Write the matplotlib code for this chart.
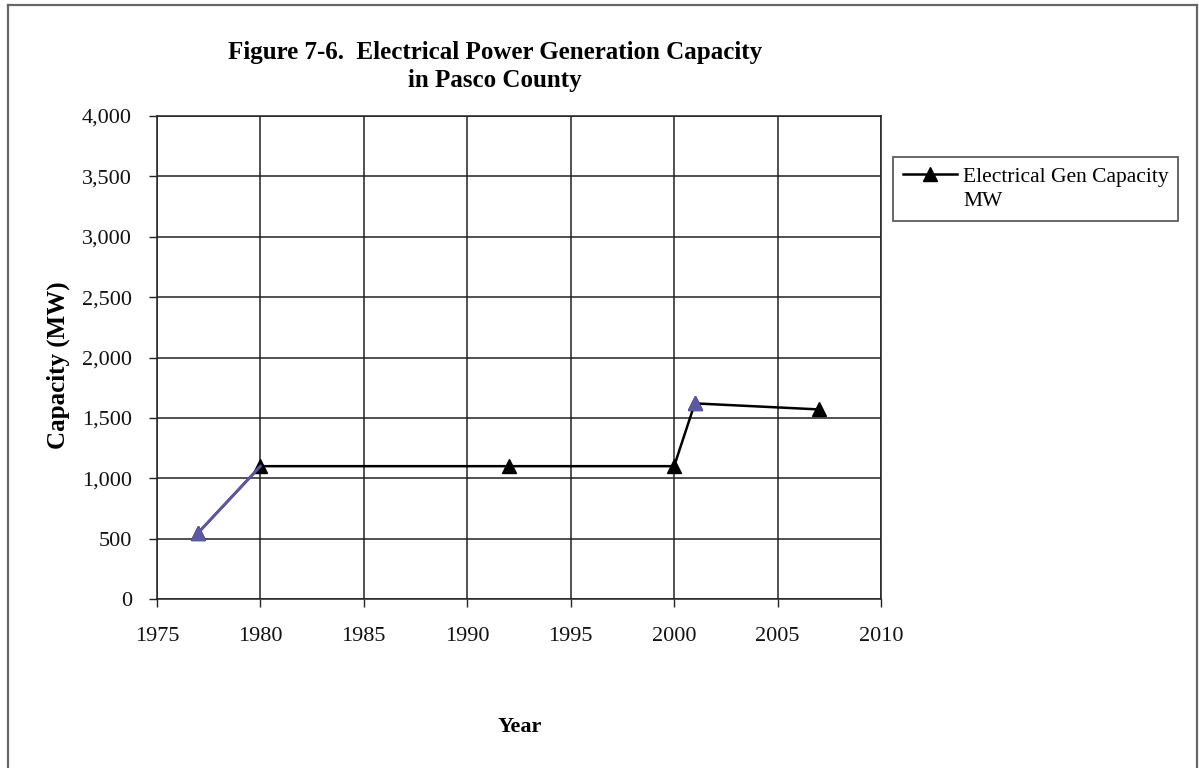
import matplotlib.pyplot as plt
from matplotlib.lines import Line2D
from matplotlib.ticker import FuncFormatter

plt.rcParams['font.family'] = ['Liberation Serif', 'DejaVu Serif']

# generation capacity by year
years = [1977, 1980, 1992, 2000, 2001, 2007]
capacity_mw = [550, 1100, 1100, 1100, 1620, 1570]
# points printed in blue in the original series
blue_points = [0, 4]

x_ticks = [1975, 1980, 1985, 1990, 1995, 2000, 2005, 2010]
y_ticks = [0, 500, 1000, 1500, 2000, 2500, 3000, 3500, 4000]

W, H = 1199, 768
fig = plt.figure(figsize=(W / 100, H / 100), dpi=100)
fig.patch.set_facecolor('white')

# plot area in pixels: left 157, right 881, top 116, bottom 599
ax = fig.add_axes([157 / W, 1 - 599 / H, (881 - 157) / W, (599 - 116) / H])

blue = '#5b58a6'
series, = ax.plot(years, capacity_mw, color='black', lw=1.8, marker='^', ms=10,
                  mfc='black', mec='black', zorder=3)
ax.plot(years[:2], capacity_mw[:2], color=blue, lw=2.0, zorder=4)
ax.plot([years[i] for i in blue_points], [capacity_mw[i] for i in blue_points],
        ls='none', marker='^', ms=10, mfc=blue, mec=blue, zorder=5)

ax.set_xlim(1975, 2010)
ax.set_ylim(0, 4000)
ax.set_xticks(x_ticks)
ax.set_yticks(y_ticks)
ax.yaxis.set_major_formatter(FuncFormatter(lambda v, p: f'{int(v):,}'))
ax.grid(True, color='#222222', lw=1.1)
ax.set_axisbelow(True)
for s in ax.spines.values():
    s.set_color('#222222')
    s.set_linewidth(1.1)
ax.tick_params(axis='both', direction='out', length=6, width=1, color='#222222',
               labelsize=16, labelcolor='#111111')
ax.tick_params(axis='y', pad=12)
ax.tick_params(axis='x', pad=14)

# legend label wraps onto a second line; the blank handle keeps "MW" under the text
blank = Line2D([], [], color='none')
leg = ax.legend([series, blank], ['Electrical Gen Capacity', 'MW'],
                loc='upper left', bbox_to_anchor=(893 / W, 1 - 157 / H),
                bbox_transform=fig.transFigure, fontsize=15.5, frameon=True,
                fancybox=False, borderpad=0.45, borderaxespad=0,
                handlelength=2.5, handletextpad=0.3, labelspacing=0.2)
leg.get_frame().set_edgecolor('#333333')
leg.get_frame().set_linewidth(1.3)

fig.text(495 / W, 1 - 52 / H, 'Figure 7-6.  Electrical Power Generation Capacity',
         ha='center', va='center', fontsize=18, fontweight='bold')
fig.text(495 / W, 1 - 80 / H, 'in Pasco County',
         ha='center', va='center', fontsize=18, fontweight='bold')
fig.text(58 / W, 1 - 365 / H, 'Capacity (MW)', rotation=90,
         ha='center', va='center', fontsize=18, fontweight='bold')
fig.text(520 / W, 1 - 727 / H, 'Year', ha='center', va='center',
         fontsize=16, fontweight='bold')

# outer chart border (bottom edge falls outside the image)
frame_kw = dict(color='#666666', lw=1.6, transform=fig.transFigure)
fig.add_artist(Line2D([8 / W, 8 / W], [0, 1 - 5 / H], **frame_kw))
fig.add_artist(Line2D([8 / W, 1197 / W], [1 - 5 / H, 1 - 5 / H], **frame_kw))
fig.add_artist(Line2D([1197 / W, 1197 / W], [0, 1 - 5 / H], **frame_kw))

fig.savefig('out.png', dpi=100)
